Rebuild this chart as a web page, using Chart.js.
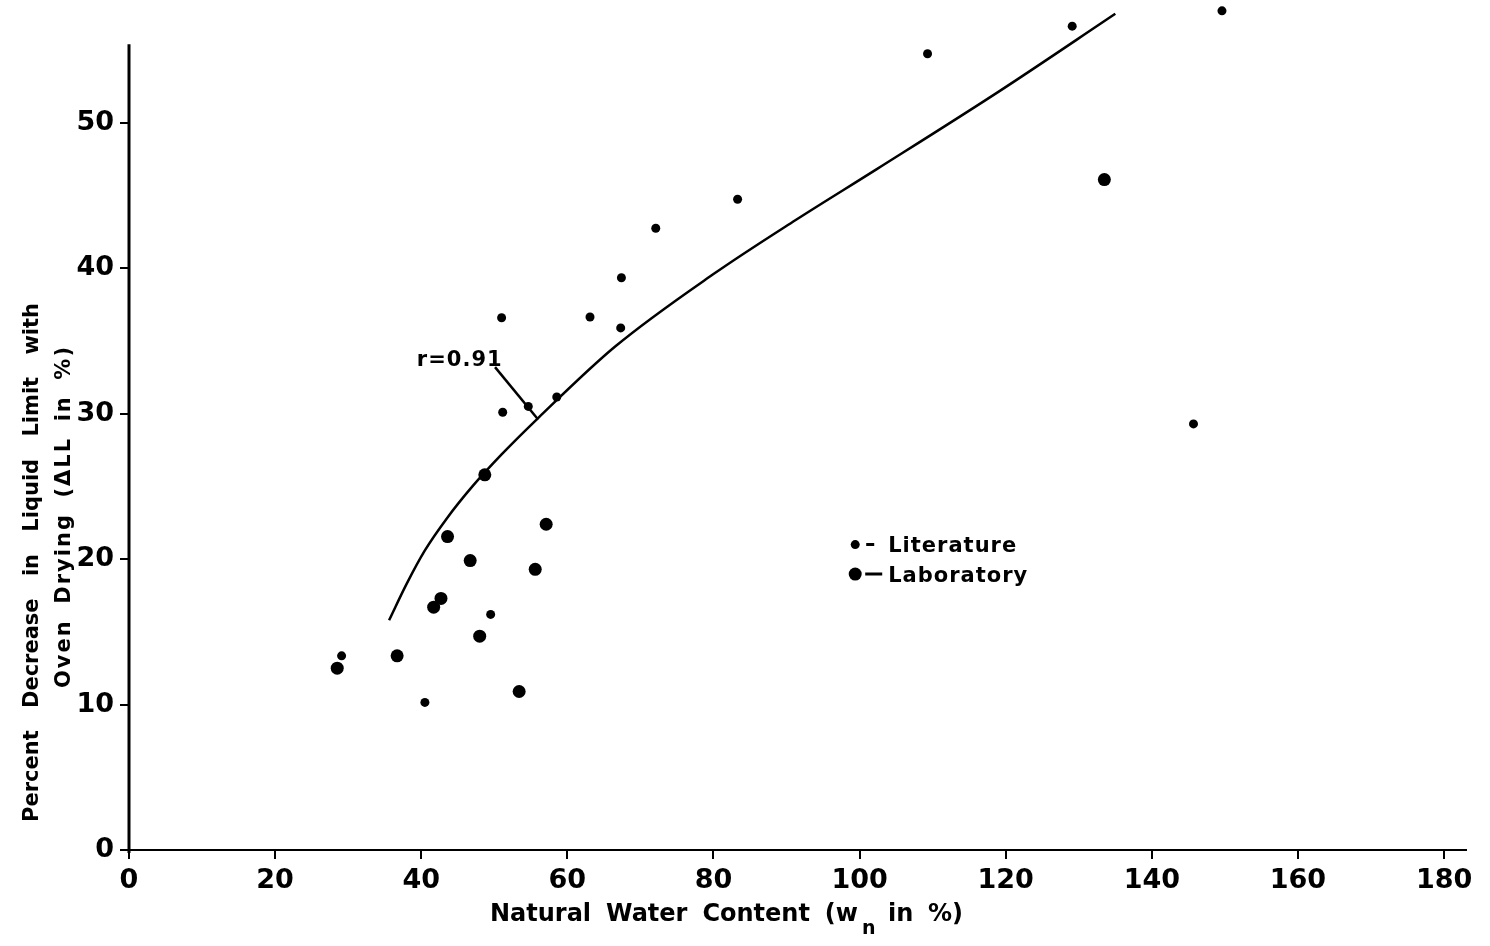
<!DOCTYPE html>
<html lang="en">
<head>
<meta charset="UTF-8">
<title>Decrease in Liquid Limit with Oven Drying</title>
<script src="https://cdn.jsdelivr.net/npm/chart.js"></script>
<style>
    html, body { margin: 0; padding: 0; background: #fff; }
    #wrap { width: 1490px; height: 946px; }
</style>
</head>
<body>
<div id="wrap"><canvas id="llChart" width="1490" height="946"></canvas></div>
<script>
// Literature values: natural water content (%) vs decrease in LL (%)
const litWn  = [149.6, 129.1, 109.3, 83.3, 72.1, 67.4, 67.3, 63.1, 51.0, 51.15, 54.65, 58.55, 145.7, 49.5, 40.5, 29.1];
const litDLL = [57.7, 56.65, 54.75, 44.75, 42.75, 39.35, 35.9, 36.65, 36.6, 30.1, 30.5, 31.15, 29.3, 16.2, 10.15, 13.35];

// Laboratory values
const labWn  = [133.5, 48.7, 43.6, 46.7, 42.7, 41.7, 48.0, 36.7, 28.5, 57.1, 55.6, 53.4];
const labDLL = [46.1, 25.8, 21.55, 19.9, 17.3, 16.7, 14.7, 13.35, 12.5, 22.4, 19.3, 10.9];

// fitted curve (r = 0.91), read along its length
const fitWn  = [35.6, 38.0, 40.5, 43.5, 47.0, 51.0, 56.0, 66.5, 80.0, 91.2, 102.3, 119.2, 135.0];
const fitDLL = [15.8, 18.3, 20.6, 22.8, 25.0, 27.2, 29.7, 34.6, 39.6, 43.3, 46.8, 52.2, 57.5];

const xTickValues = [0, 20, 40, 60, 80, 100, 120, 140, 160, 180];
const yTickValues = [0, 10, 20, 30, 40, 50];
const yAxisTop = 55.4;   // the drawn y axis stops here, points run above it

const FONT = '"DejaVu Sans", sans-serif';

function toPoints(xs, ys) {
    return xs.map((x, i) => ({ x: x, y: ys[i] }));
}

// lay words out along the current x axis so they fill start..end
function spreadWords(ctx, words, start, end, y) {
    const widths = words.map(w => ctx.measureText(w).width);
    const total = widths.reduce((a, b) => a + b, 0);
    const gap = words.length > 1 ? (end - start - total) / (words.length - 1) : 0;
    let pos = start;
    words.forEach((w, i) => {
        ctx.fillText(w, pos, y);
        pos += widths[i] + gap;
    });
}

// y axis line that ends below the top of the plot
const shortAxis = {
    id: 'shortAxis',
    beforeDatasetsDraw(chart) {
        const ctx = chart.ctx;
        const ys = chart.scales.y;
        const left = chart.chartArea.left;
        ctx.save();
        ctx.strokeStyle = '#000';
        ctx.lineWidth = 3;
        ctx.beginPath();
        ctx.moveTo(left, ys.getPixelForValue(yAxisTop));
        ctx.lineTo(left, chart.chartArea.bottom + 3);
        ctx.stroke();
        ctx.restore();
    }
};

// axis titles, legend and the r label
const figureText = {
    id: 'figureText',
    afterDatasetsDraw(chart) {
        const ctx = chart.ctx;
        const xs = chart.scales.x;
        const ys = chart.scales.y;
        ctx.save();
        ctx.fillStyle = '#000';
        ctx.strokeStyle = '#000';
        ctx.textAlign = 'left';
        ctx.textBaseline = 'alphabetic';

        // y title, two rotated lines
        ctx.font = 'bold 21px ' + FONT;
        ctx.save();
        ctx.translate(38, 822);
        ctx.rotate(-Math.PI / 2);
        spreadWords(ctx, ['Percent', 'Decrease', 'in', 'Liquid', 'Limit', 'with'], 0, 519, 0);
        ctx.restore();
        ctx.save();
        ctx.translate(70, 688);
        ctx.rotate(-Math.PI / 2);
        ctx.letterSpacing = '2px';
        spreadWords(ctx, ['Oven', 'Drying', '(\u0394LL', 'in', '%)'], 0, 343, 0);
        ctx.letterSpacing = '0px';
        ctx.restore();

        // x title with subscript n
        ctx.font = 'bold 24px ' + FONT;
        spreadWords(ctx, ['Natural', 'Water', 'Content', '(w'], 490, 858, 921);
        ctx.font = 'bold 19px ' + FONT;
        ctx.fillText('n', 862, 934);
        ctx.font = 'bold 24px ' + FONT;
        spreadWords(ctx, ['in', '%)'], 888, 963, 921);

        // legend
        const lx = xs.getPixelForValue(99.4);
        const ly = ys.getPixelForValue(21.0);
        ctx.beginPath();
        ctx.arc(lx, ly, 4.5, 0, Math.PI * 2);
        ctx.fill();
        ctx.beginPath();
        ctx.arc(lx, ly + 29.5, 6.5, 0, Math.PI * 2);
        ctx.fill();
        ctx.lineWidth = 3;
        ctx.beginPath();
        ctx.moveTo(lx + 11, ly);
        ctx.lineTo(lx + 19, ly);
        ctx.moveTo(lx + 10, ly + 29.5);
        ctx.lineTo(lx + 27, ly + 29.5);
        ctx.stroke();
        ctx.font = 'bold 21px ' + FONT;
        ctx.letterSpacing = '1px';
        ctx.fillText('Literature', lx + 33, ly + 7);
        ctx.fillText('Laboratory', lx + 33, ly + 37);
        ctx.letterSpacing = '0px';

        // r label with leader to the curve
        ctx.font = 'bold 21px ' + FONT;
        ctx.letterSpacing = '1px';
        ctx.fillText('r=0.91', xs.getPixelForValue(39.4), ys.getPixelForValue(33.3));
        ctx.letterSpacing = '0px';
        ctx.lineWidth = 2.5;
        ctx.beginPath();
        ctx.moveTo(xs.getPixelForValue(50.1), ys.getPixelForValue(33.2));
        ctx.lineTo(xs.getPixelForValue(56.0), ys.getPixelForValue(29.6));
        ctx.stroke();

        ctx.restore();
    }
};

const tickFont = { family: FONT, size: 27, weight: 'bold' };

new Chart(document.getElementById('llChart').getContext('2d'), {
    type: 'scatter',
    data: {
        datasets: [
            {
                label: 'Literature',
                data: toPoints(litWn, litDLL),
                pointRadius: 4.5,
                backgroundColor: '#000',
                borderWidth: 0,
                clip: false
            },
            {
                label: 'Laboratory',
                data: toPoints(labWn, labDLL),
                pointRadius: 6.5,
                backgroundColor: '#000',
                borderWidth: 0,
                clip: false
            },
            {
                label: 'r=0.91',
                type: 'line',
                data: toPoints(fitWn, fitDLL),
                showLine: true,
                fill: false,
                borderColor: '#000',
                borderWidth: 2.5,
                pointRadius: 0,
                cubicInterpolationMode: 'monotone',
                clip: false
            }
        ]
    },
    options: {
        responsive: false,
        animation: false,
        devicePixelRatio: 1,
        layout: { padding: { top: 2, right: 24, left: 0, bottom: 0 } },
        plugins: {
            legend: { display: false },
            tooltip: { enabled: false }
        },
        scales: {
            x: {
                type: 'linear',
                min: 0,
                max: 183,
                afterFit(scale) { scale.height = 96; },
                afterBuildTicks(scale) { scale.ticks = xTickValues.map(v => ({ value: v })); },
                ticks: { font: tickFont, color: '#000', padding: 6, maxRotation: 0 },
                grid: { drawOnChartArea: false, tickLength: 9, color: '#000', lineWidth: 2 },
                border: { color: '#000', width: 2 }
            },
            y: {
                type: 'linear',
                min: 0,
                max: 58.0,
                afterFit(scale) {
                    scale.width = 129;
                    // no room needed above the top label, it sits well below the top
                    scale.paddingTop = 0;
                    scale.paddingBottom = 0;
                },
                afterBuildTicks(scale) { scale.ticks = yTickValues.map(v => ({ value: v })); },
                ticks: { font: tickFont, color: '#000', padding: 6 },
                grid: { drawOnChartArea: false, tickLength: 9, color: '#000', lineWidth: 2 },
                border: { display: false }
            }
        }
    },
    plugins: [shortAxis, figureText]
});
</script>
</body>
</html>
